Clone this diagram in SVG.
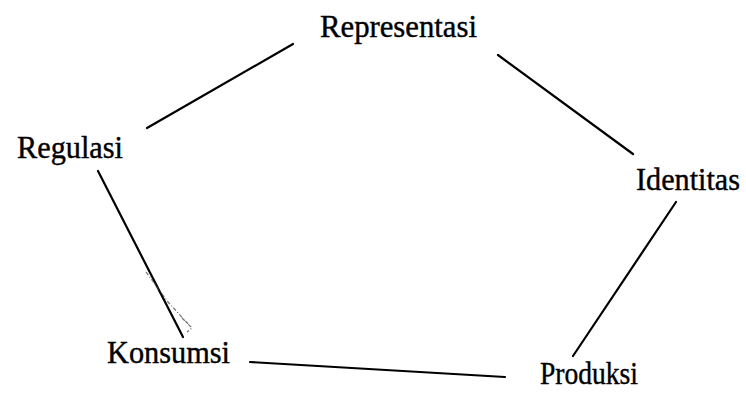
<svg xmlns="http://www.w3.org/2000/svg" width="746" height="398" viewBox="0 0 746 398">
  <style>
    .label { font-family: "Liberation Serif", "Times New Roman", serif; font-size: 31px; fill: #000; stroke: #000; stroke-width: 0.4; }
    .edge { stroke: #000; stroke-width: 2.2; stroke-linecap: round; fill: none; }
    .ghost { stroke: #444; stroke-width: 1.2; stroke-dasharray: 4 2 1 2; fill: none; opacity: 0.75; }
  </style>
  <rect width="746" height="398" fill="#fff"/>

  <!-- connectors of the cycle -->
  <g id="connectors">
    <line class="edge" x1="147" y1="128" x2="293" y2="44"/>
    <line class="edge" x1="498" y1="55" x2="633" y2="154"/>
    <line class="edge" x1="676" y1="202" x2="573" y2="356"/>
    <line class="edge" x1="250" y1="362" x2="505" y2="377"/>
    <line class="edge" x1="98" y1="171" x2="183" y2="337"/>
    <path class="ghost" d="M146 272 L168 302 L190 326 M182 318 L192 328 L187 332"/>
  </g>

  <g id="node-representasi">
    <text class="label" x="320" y="37" textLength="157" lengthAdjust="spacingAndGlyphs">Representasi</text>
  </g>
  <g id="node-regulasi">
    <text class="label" x="17" y="158" textLength="106" lengthAdjust="spacingAndGlyphs">Regulasi</text>
  </g>
  <g id="node-identitas">
    <text class="label" x="636" y="190" textLength="104" lengthAdjust="spacingAndGlyphs">Identitas</text>
  </g>
  <g id="node-konsumsi">
    <text class="label" x="107" y="363" textLength="123" lengthAdjust="spacingAndGlyphs">Konsumsi</text>
  </g>
  <g id="node-produksi">
    <text class="label" x="540" y="384" textLength="98" lengthAdjust="spacingAndGlyphs">Produksi</text>
  </g>
</svg>
